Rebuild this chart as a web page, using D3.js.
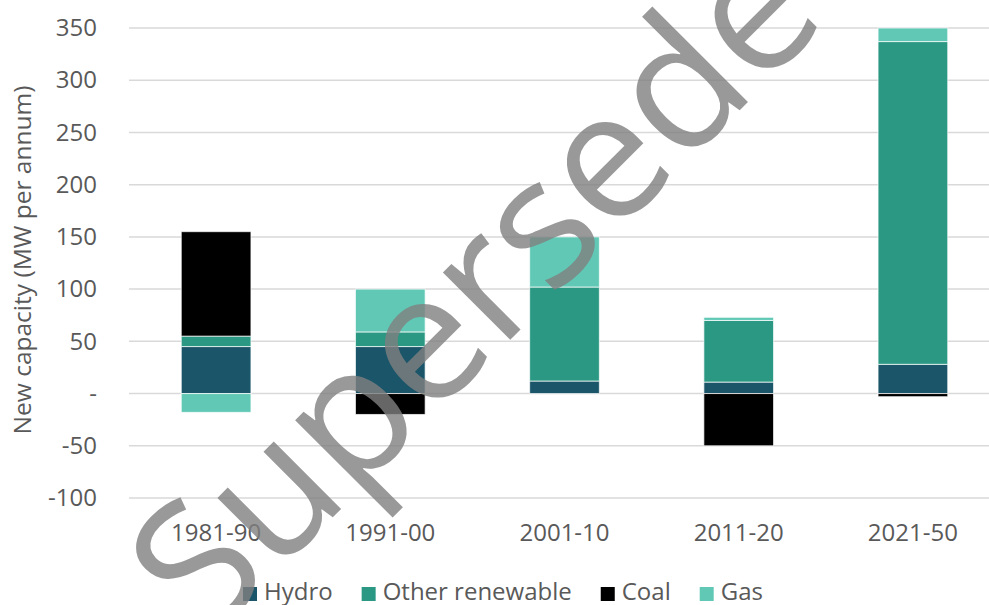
<!DOCTYPE html>
<html>
<head>
<meta charset="utf-8">
<script src="https://cdn.jsdelivr.net/npm/d3@7"></script>
<style>
  body { margin: 0; background: #fff; }
  text { font-family: 'Open Sans', sans-serif; fill: #595959; }
</style>
</head>
<body>
<svg id="chart" width="989" height="605"></svg>
<script>
// data
let periods = ['1981-90', '1991-00', '2001-10', '2011-20', '2021-50']
let seriesNames = ['Hydro', 'Other renewable', 'Coal', 'Gas']
let hydro = [45, 45, 12, 11, 28]
let otherRenewable = [10, 14, 90, 59, 309]
let coal = [100, -20, 0, -50, -3]
let gas = [-18, 41, 48, 3, 13]
let yTicks = [-100, -50, 0, 50, 100, 150, 200, 250, 300, 350]
let colors = ['#1b5569', '#2a9883', '#000000', '#62c8b6']

let width = 989
let height = 605
let margin = { left: 129, right: -11, top: 28, bottom: 107 }

let table = periods.map((p, i) => ({
  period: p,
  'Hydro': hydro[i],
  'Other renewable': otherRenewable[i],
  'Coal': coal[i],
  'Gas': gas[i],
}))

let svg = d3.select('#chart')

let x = d3
  .scaleBand()
  .domain(periods)
  .range([margin.left, width - margin.right])
  .paddingInner(0.6)
  .paddingOuter(0.3)

let y = d3
  .scaleLinear()
  .domain([-100, 350])
  .range([height - margin.bottom, margin.top])

let colorScale = d3.scaleOrdinal().domain(seriesNames).range(colors)

// gridlines
svg
  .append('g')
  .selectAll('line')
  .data(yTicks)
  .join('line')
  .attr('x1', margin.left)
  .attr('x2', width)
  .attr('y1', d => y(d))
  .attr('y2', d => y(d))
  .attr('stroke', '#d9d9d9')
  .attr('stroke-width', 1.5)

// y axis labels
let yAxis = d3
  .axisLeft(y)
  .tickValues(yTicks)
  .tickSize(0)
  .tickPadding(0)
  .tickFormat(d => (d === 0 ? '-' : d))
svg
  .append('g')
  .attr('transform', 'translate(97,0)')
  .call(yAxis)
  .call(g => g.select('.domain').remove())
  .selectAll('text')
  .attr('font-size', 24)
  .attr('font-family', 'Open Sans, sans-serif')
  .attr('fill', '#595959')

// stacked bars, positives and negatives stacked separately
let stack = d3.stack().keys(seriesNames).offset(d3.stackOffsetDiverging)
let layers = stack(table)

svg
  .append('g')
  .selectAll('g')
  .data(layers)
  .join('g')
  .attr('fill', d => colorScale(d.key))
  .selectAll('rect')
  .data(d => d.filter(s => s[1] - s[0] !== 0))
  .join('rect')
  .attr('x', d => x(d.data.period))
  .attr('width', x.bandwidth())
  .attr('y', d => y(Math.max(d[0], d[1])))
  .attr('height', d => Math.abs(y(d[0]) - y(d[1])))
  .attr('stroke', 'rgba(255,255,255,0.7)')
  .attr('stroke-width', 1)

// x axis labels
let xAxis = d3.axisBottom(x).tickSize(0).tickPadding(0)
svg
  .append('g')
  .attr('transform', 'translate(0,524)')
  .call(xAxis)
  .call(g => g.select('.domain').remove())
  .selectAll('text')
  .attr('font-size', 24)
  .attr('font-family', 'Open Sans, sans-serif')
  .attr('fill', '#595959')

// y title
svg
  .append('text')
  .attr('transform', 'translate(31,260) rotate(-90)')
  .attr('text-anchor', 'middle')
  .attr('font-size', 24.5)
  .text('New capacity (MW per annum)')

// legend
let legend = svg.append('g').attr('transform', 'translate(243,600)')
let lx = 0
seriesNames.forEach(name => {
  let item = legend.append('g').attr('transform', `translate(${lx},0)`)
  item
    .append('rect')
    .attr('x', 0)
    .attr('y', -13)
    .attr('width', 14)
    .attr('height', 14)
    .attr('fill', colorScale(name))
  let t = item
    .append('text')
    .attr('x', 21)
    .attr('font-size', 24)
    .text(name)
  lx += 21 + t.node().getComputedTextLength() + 29
})

// watermark
svg
  .append('text')
  .attr('transform', 'translate(556,294) rotate(-45)')
  .attr('text-anchor', 'middle')
  .attr('font-family', 'Liberation Sans, Arial, sans-serif')
  .attr('font-size', 178)
  .style('fill', '#808080')
  .style('opacity', 0.8)
  .text('Superseded')
</script>
</body>
</html>
